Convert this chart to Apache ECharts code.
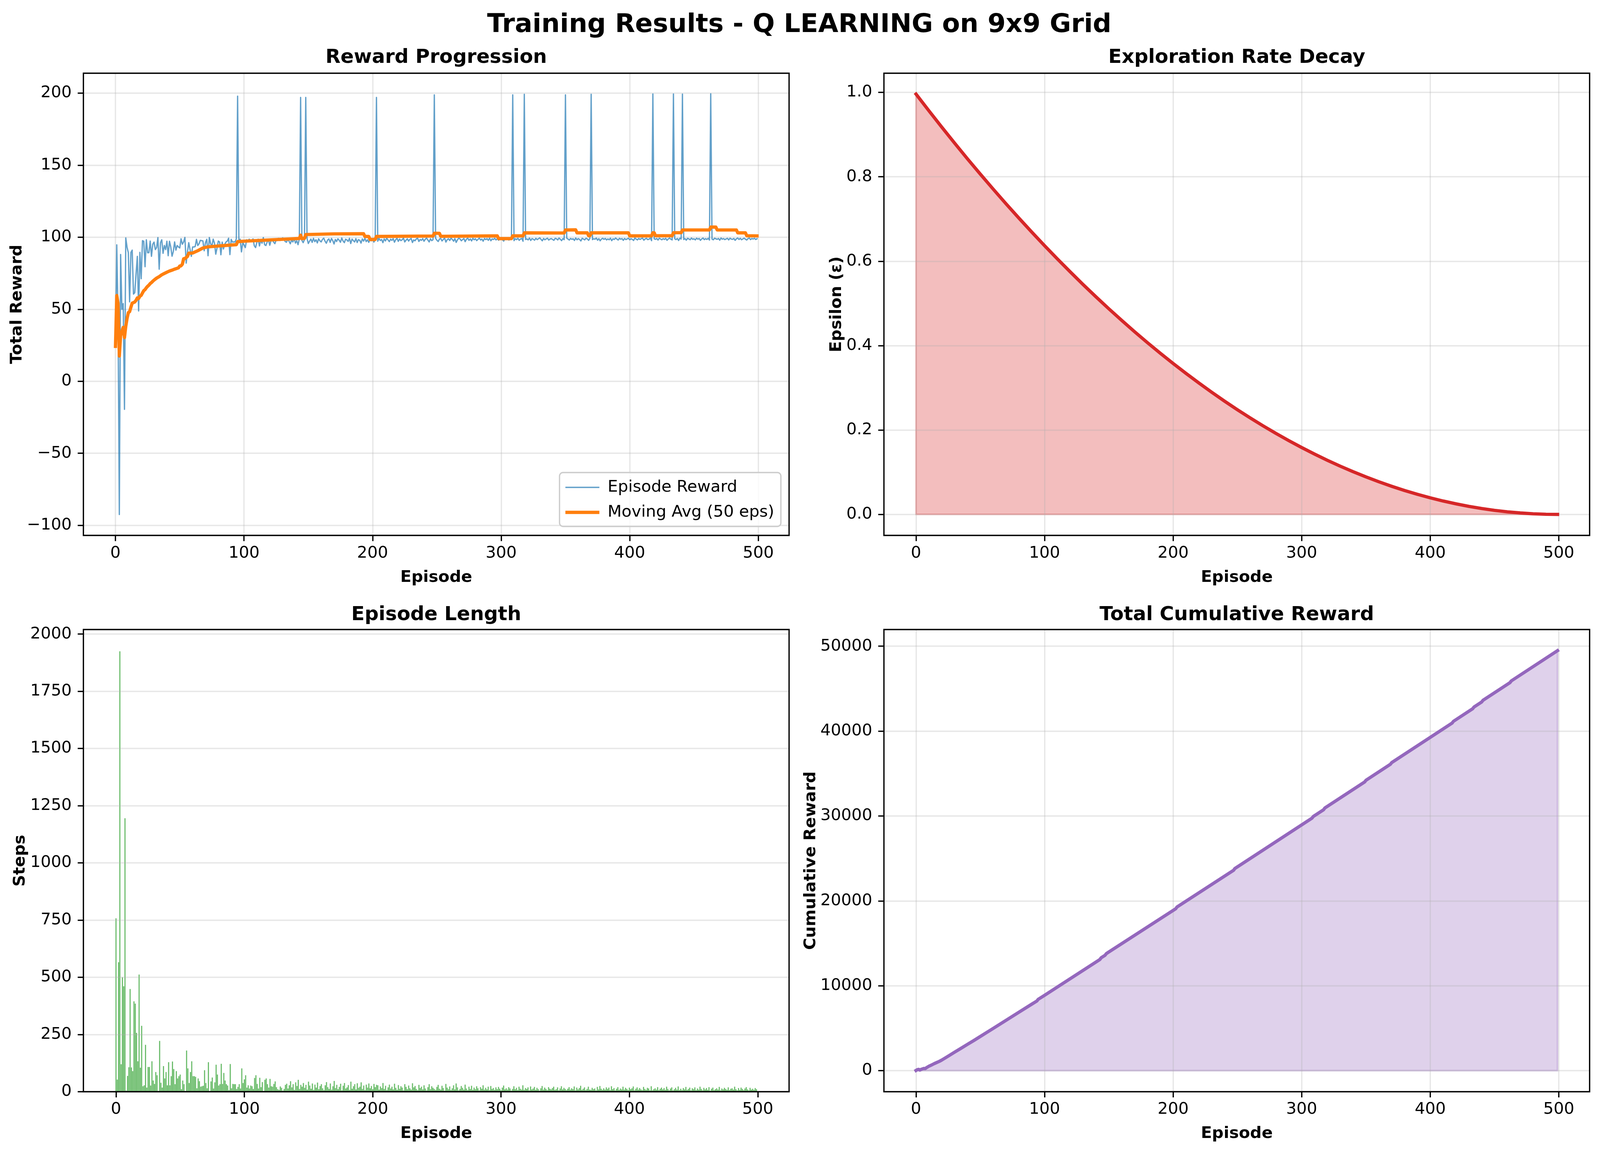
<!DOCTYPE html>
<html><head><meta charset="utf-8">
<style>html,body{margin:0;padding:0;background:#fff;overflow:hidden}#c{width:100vw;height:100vh}</style>
<script src="https://cdn.jsdelivr.net/npm/echarts@6/dist/echarts.min.js"></script>
</head><body><div id="c"></div>
<script>
const rewards = [
24.2,94.7,43.4,-92.5,88,50,53.9,-19.5,99.5,93.1,
89.3,55.1,89.4,91,60.5,61.5,74.3,86.7,48.8,89.5,
71.2,97.6,97.2,79.5,98.2,89.2,89.2,97.3,86.7,95.1,
96.6,91.4,92.8,99.7,77.8,96.1,98.2,88.8,94.2,91.4,
97.2,87.1,97.2,93.2,86.8,90.1,96.7,91,94.2,93.2,
92.5,98.9,95.1,96.7,99.8,82,89.8,96.2,91.4,86.7,
93.2,93.2,93.5,98.5,94.2,95.4,97.8,97.6,97.4,90.6,
96.2,98.5,87.1,99.8,95.5,93.8,98.6,95.9,88.2,92.5,
97.3,96.7,87.8,96.6,91.8,95.1,96.7,97.3,99.3,87.9,
98.5,96.6,96.7,96.7,98.8,197.9,96.7,98.6,89.8,96.2,
94.6,92.8,98.2,97.2,98.6,97.3,97.6,98.8,94,92.8,
96.6,98.6,93.9,98,95.8,99.7,94.8,94.2,96.7,98.2,
94.4,97.6,97.8,96.6,95.5,98,98.9,99.2,97.7,98.3,
99.5,98.8,97,96.5,98.6,97.2,95.4,98.1,96.7,99.2,
95.9,97.5,94.8,98.8,197,97.8,96.2,98.3,197,99.1,
95.6,97.3,98.7,96.4,99.2,96.9,98.2,96,98.9,97.5,
96.7,98.5,99.3,97.2,95.8,98,98.8,96.4,99.1,97.6,
95.3,98.4,97,98.9,97.9,96.5,99.4,97.4,96.2,98.6,
98.1,97.1,99.2,95.6,98.7,97.6,96.7,99,96.3,98.3,
97.8,95.9,98.8,97.3,99.3,96.9,98.2,96.4,98.5,97.5,
98.9,96.6,98,197,97.2,99.1,97.7,98.4,96.2,98.8,
97.4,99.3,98.1,96.9,98.6,97.8,99,96.5,98.3,99.2,
97.1,98.7,97.6,98.2,99.4,96.7,97.9,98.9,97.3,98.5,
99.1,96.3,98.1,97.5,98.8,99.3,97,98.4,97.8,99,
97.2,98.6,99.4,98,96.7,98.9,97.6,98.3,198.8,99.2,
97.9,97,98.7,99.1,97.4,98.4,99.5,96.6,98.2,98.9,
97.7,99.3,98.5,97.2,99,96.4,98.1,99.4,98.8,97.5,
98.3,99.1,96.9,98.6,99.3,97.8,98.8,97.4,99.2,98.2,
98.9,97.6,98.5,99.4,98,98.7,97.2,99.1,98.3,99,
97.8,99.3,97.5,98.8,98.4,99.2,98.1,98.9,97.9,98.7,
99.4,98.2,97.3,99,98.5,99.1,98,98.6,99.5,198.8,
97.6,98.9,98.3,99.3,97.8,98.7,99.1,97.2,199.2,98.4,
98.8,98.1,99.4,97.7,99,98.6,97.9,99.2,98.3,98.9,
99.5,98.5,97.5,99.1,98.2,98.8,99.3,98,98.7,99,
98.4,97.8,99.2,98.9,98.1,99.4,98.6,97.6,99,98.3,
198.8,99.3,98.7,98,99.1,98.5,98.9,97.7,99.4,98.2,
99,98.4,97.4,99.2,98.7,98.1,99.3,98.8,97.8,99.1,
199.2,98.3,98.9,98.6,99.4,97.9,99,97.5,98.7,99.2,
98.5,99.1,98.1,98.8,98.2,99.3,97.6,98.9,98.4,99.4,
98.7,98,99.2,98.6,99,97.8,99.1,98.3,98.8,99.3,
98.2,98.9,98.5,97.7,99.4,98.7,98.1,99.1,98.4,99,
99.3,97.9,98.8,99.2,98.3,98.6,99.4,97.6,199.4,98.9,
98.5,99.1,98,99.3,98.7,98.2,99,98.4,99.2,97.8,
98.8,99.4,98.6,98.1,199.4,98.9,98.3,99.1,97.7,99.3,
98.7,199.3,98.4,99,97.9,99.2,98.8,98.2,99.4,98.5,
98.9,98.1,99.3,98.6,99.1,97.8,98.8,99.4,98.3,99,
98.4,99.2,98,199.5,98.7,98.2,99.3,98.9,98.5,99.1,
97.9,99.4,98.6,99,98.3,98.8,99.2,98.1,99.3,98.7,
98.5,99.1,97.8,98.9,99.4,98.4,99.2,98.2,98.8,99.3,
98.6,98,99,99.4,98.3,99.1,98.7,99.2,98.4,98.9];

const steps = [
758,53,566,1925,120,500,461,1195,5,69,
107,449,106,90,395,385,257,133,512,105,
288,24,28,205,18,108,108,27,133,49,
34,86,72,3,222,39,18,112,58,86,
28,129,28,68,132,99,33,90,58,68,
75,11,49,33,2,180,102,38,86,133,
68,68,65,15,58,46,22,24,26,94,
38,15,129,2,45,62,14,41,118,75,
27,33,122,34,82,49,33,27,7,121,
15,34,33,33,12,21,33,14,102,38,
54,72,18,28,14,27,24,12,60,72,
34,14,61,20,42,3,52,58,33,18,
56,24,22,34,45,20,11,8,23,17,
5,12,30,35,14,28,46,19,33,8,
41,25,52,12,30,22,38,17,30,9,
44,27,13,36,8,31,18,40,11,25,
33,15,7,28,42,20,12,36,9,24,
47,16,30,11,21,35,6,26,38,14,
19,29,8,44,13,24,33,10,37,17,
22,41,12,27,7,31,18,36,15,25,
11,34,20,30,28,9,23,16,38,12,
26,7,19,31,14,22,10,35,17,8,
29,13,24,18,6,33,21,11,27,15,
9,37,19,25,12,7,30,16,22,10,
28,14,6,20,33,11,24,17,12,8,
21,30,13,9,26,16,5,34,18,11,
23,7,15,28,10,36,19,6,12,25,
17,9,31,14,7,22,12,26,8,18,
11,24,15,6,20,13,28,9,17,10,
22,7,25,12,16,8,19,11,21,13,
6,18,27,10,15,9,20,14,5,12,
24,11,17,7,22,13,9,28,8,16,
12,19,6,23,10,14,21,8,17,11,
5,15,25,9,18,12,7,20,13,10,
16,22,8,11,19,6,14,24,10,17,
12,7,13,20,9,15,11,23,6,18,
10,16,26,8,13,19,7,12,22,9,
8,17,11,14,6,21,10,25,13,8,
15,9,19,12,18,7,24,11,16,6,
13,20,8,14,10,22,9,17,12,7,
18,11,15,23,6,13,19,9,16,10,
7,21,12,8,17,14,6,24,6,11,
15,9,20,7,13,18,10,16,8,22,
12,6,14,19,6,11,17,9,23,7,
13,7,16,10,21,8,12,18,6,15,
11,19,7,14,9,22,12,6,17,10,
16,8,20,5,13,18,7,11,15,9,
21,6,14,10,17,12,8,19,7,13,
15,9,22,11,6,16,8,18,12,7,
14,20,10,6,17,9,13,8,16,11];

const avgEpisodes = [0,1,2,3,4,5,6,7,8,9,10,11,12,13,14,15,16,17,18,19,20,21,22,23,24,25,26,27,28,29,30,32,34,36,38,40,42,44,46,49,50,51,52,53,54,55,56,57,60,64,68,72,80,94,95,100,143,144,145,147,148,170,193,194,197,198,202,203,247,248,252,253,297,298,308,309,317,318,349,350,358,359,367,368,369,370,399,400,417,418,419,420,433,434,440,441,462,463,467,468,483,484,490,491,499];
const avgValues = [24.2,59.5,54,17.5,31.6,34.6,37.4,30.3,38,43.5,47.6,48.3,51.4,54.2,54.6,55,56.2,57.9,57.4,59,59.6,61.3,62.9,63.6,64.9,65.9,66.7,67.8,68.5,69.4,70.2,71.6,72.6,73.9,74.8,75.7,76.5,77.1,77.8,78.7,80,80.1,81.2,85,85.2,85.9,86.6,88.9,89,90.6,92.5,93.3,93.9,94.8,96.9,97.2,99.1,101.4,99,99.2,101.8,102.3,102.4,100.5,100.5,98.4,98.4,100.5,100.8,102.7,102.7,100.6,100.9,99,99,100.9,100.9,103,102.9,105,105.1,103,103,101,101,103,103,100.9,100.9,103.1,103.1,101,101,103.1,103.1,105,105,107,107,105,105,103,103,101,100.9];

const epsEpisodes = [0,10,20,30,40,50,60,70,80,90,100,110,120,130,140,150,160,170,180,190,200,210,220,230,240,250,260,270,280,290,300,310,320,330,340,350,360,370,380,390,400,410,420,430,440,450,460,470,480,490,499];
const epsValues = [0.996,0.9565,0.9178,0.8798,0.8427,0.8064,0.7709,0.7362,0.7022,0.6691,0.6368,0.6053,0.5746,0.5446,0.5155,0.4872,0.4597,0.433,0.407,0.3819,0.3576,0.3341,0.3114,0.2894,0.2683,0.248,0.2285,0.2098,0.1918,0.1747,0.1584,0.1429,0.1282,0.1142,0.1011,0.0888,0.0773,0.0666,0.0566,0.0475,0.0392,0.0317,0.025,0.019,0.0139,0.0096,0.0061,0.0034,0.0014,0.0003,0];

const cumEpisodes = [0,1,2,3,4,5,6,7,8,9,10,12,14,16,18,20,25,30,35,40,45,49,55,60,70,80,90,94,95,99,143,144,147,148,149,202,203,247,248,308,309,317,318,349,350,369,370,417,418,433,434,440,441,462,463,499];
const cumValues = [24,119,162,70,158,208,262,242,342,435,524,668,820,955,1091,1251,1712,2178,2636,3105,3559,3934,4503,4975,5933,6885,7833,8206,8403,8784,13100,13297,13589,13786,13885,19080,19280,23610,23815,29745,29945,30740,30940,34010,34210,36095,36295,40945,41150,42640,42835,43430,43630,45710,45910,49475];

const xTicks = [0,100,200,300,400,500];
const rewardTicks = [-100,-50,0,50,100,150,200];
const epsTicks = [0,0.2,0.4,0.6,0.8,1];
const stepTicks = [0,250,500,750,1000,1250,1500,1750,2000];
const cumTicks = [0,10000,20000,30000,40000,50000];

const zip = (xs, ys) => xs.map((x, i) => [x, ys[i]]);
const FONT = 'DejaVu Sans';
const SPINE = 3.33;
// The browser window can be narrower than the 4470 px figure: horizontal layout follows the real width.
const PAGE_W = window.innerWidth || 4470, PAGE_H = window.innerHeight || 2955;
const SX = PAGE_W / 4470;
const LEFT = [233 * SX, 2469.5 * SX], TOP = [187.5, 1612], W = 1971.5 * SX, H = 1183.5;
const CX = [LEFT[0] + W / 2, LEFT[1] + W / 2];

const grids = [[0,0],[1,0],[0,1],[1,1]].map(([c, r]) => ({
  left: LEFT[c], top: TOP[r], width: W, height: H, show: true, z: 3,
  borderColor: '#000', borderWidth: SPINE, backgroundColor: 'transparent', containLabel: false
}));

function xAxis(i, min, max, showGrid) {
  return {
    type: 'value', gridIndex: i, min, max, name: 'Episode', nameLocation: 'middle', nameGap: 87, nameMoveOverlap: false,
    nameTextStyle: {fontFamily: FONT, fontWeight: 'bold', fontSize: 41.67, color: '#000'},
    axisLine: {show: false, onZero: false},
    axisTick: {show: true, length: 14.6, customValues: xTicks, lineStyle: {color: '#000', width: SPINE}},
    axisLabel: {show: true, customValues: xTicks, margin: 25, color: '#000', fontFamily: FONT, fontSize: 41.67, formatter: v => String(v)},
    splitLine: {show: showGrid, lineStyle: {color: '#b0b0b0', opacity: 0.3, width: SPINE}}
  };
}
function yAxis(i, min, max, name, gap, ticks, fmt) {
  return {
    type: 'value', gridIndex: i, min, max, name, nameLocation: 'middle', nameRotate: 90, nameGap: gap, nameMoveOverlap: false,
    nameTextStyle: {fontFamily: FONT, fontWeight: 'bold', fontSize: 41.67, color: '#000'},
    axisLine: {show: false, onZero: false},
    axisTick: {show: true, length: 14.6, customValues: ticks, lineStyle: {color: '#000', width: SPINE}},
    axisLabel: {show: true, customValues: ticks, margin: 30, color: '#000', fontFamily: FONT, fontSize: 41.67, formatter: fmt},
    splitLine: {show: true, lineStyle: {color: '#b0b0b0', opacity: 0.3, width: SPINE}}
  };
}
function ttl(text, cx, top, size) {
  return {text, left: cx, top, padding: 0, textAlign: 'center',
    textStyle: {fontFamily: FONT, fontWeight: 'bold', fontSize: size, color: '#000'}};
}
const plain = v => String(v).replace('-', '\u2212');
const lineBase = {type: 'line', symbol: 'none', showSymbol: false, animation: false};
const stroke = (color, width, opacity) => ({color, width, opacity, join: 'round', cap: 'square'});
const ICON_THIN = 'path://M0,0L87,0L87,0ZM0,30L87,30L87,30ZM0,13.3L87,13.3L87,16.7L0,16.7Z';
const ICON_THICK = 'path://M0,0L87,0L87,0ZM0,30L87,30L87,30ZM0,10.8L87,10.8L87,19.2L0,19.2Z';

const option = {
  animation: false,
  backgroundColor: '#fff',
  textStyle: {fontFamily: FONT},
  title: [
    ttl('Training Results - Q LEARNING on 9x9 Grid', 2233 * SX, 31, 66.67),
    ttl('Reward Progression', CX[0], 123, 50),
    ttl('Exploration Rate Decay', CX[1], 123, 50),
    ttl('Episode Length', CX[0], 1550, 50),
    ttl('Total Cumulative Reward', CX[1], 1550, 50)
  ],
  legend: {
    data: [{name: 'Episode Reward', icon: ICON_THIN}, {name: 'Moving Avg (50 eps)', icon: ICON_THICK}],
    orient: 'vertical', right: PAGE_W - (LEFT[0] + W) + 21, top: 1210, align: 'left',
    padding: [17, 17, 15, 15], itemWidth: 87, itemHeight: 30, itemGap: 22,
    backgroundColor: 'rgba(255,255,255,0.8)', borderColor: '#cccccc', borderWidth: SPINE, borderRadius: 9,
    textStyle: {fontFamily: FONT, fontSize: 41.67, color: '#000', padding: [0,0,0,16]},
    z: 10
  },
  grid: grids,
  xAxis: [xAxis(0, -24.95, 523.95, true), xAxis(1, -24.95, 523.95, true), xAxis(2, -25.4, 524.4, false), xAxis(3, -24.95, 523.95, true)],
  yAxis: [
    yAxis(0, -107, 213.8, 'Total Reward', 148, rewardTicks, plain),
    yAxis(1, -0.0498, 1.0454, 'Epsilon (\u03b5)', 100, epsTicks, v => v.toFixed(1)),
    yAxis(2, 0, 2020, 'Steps', 140, stepTicks, v => String(v)),
    yAxis(3, -2476, 51965, 'Cumulative Reward', 166, cumTicks, v => String(v))
  ],
  series: [
    {...lineBase, name: 'Episode Reward', xAxisIndex: 0, yAxisIndex: 0, data: rewards.map((v, i) => [i, v]),
      lineStyle: stroke('#1f77b4', 3.33, 0.7), itemStyle: {color: '#1f77b4', opacity: 0.7}, z: 4},
    {...lineBase, name: 'Moving Avg (50 eps)', xAxisIndex: 0, yAxisIndex: 0, data: zip(avgEpisodes, avgValues),
      lineStyle: stroke('#ff7f0e', 8.33, 1), itemStyle: {color: '#ff7f0e'}, z: 5},

    {...lineBase, name: 'eps fill', xAxisIndex: 1, yAxisIndex: 1, data: zip(epsEpisodes, epsValues), z: -1,
      lineStyle: {width: 0}, areaStyle: {color: '#d62728', opacity: 0.3}},
    {...lineBase, name: 'eps edge', xAxisIndex: 1, yAxisIndex: 1,
      data: [[epsEpisodes[0], epsValues[0]], [epsEpisodes[0], 0], [epsEpisodes[epsEpisodes.length - 1], 0]], z: -1,
      lineStyle: stroke('#d62728', 4.17, 0.3)},
    {...lineBase, name: 'Epsilon', xAxisIndex: 1, yAxisIndex: 1, data: zip(epsEpisodes, epsValues),
      lineStyle: stroke('#d62728', 8.33, 1), z: 4},

    {type: 'bar', name: 'Steps', xAxisIndex: 2, yAxisIndex: 2, data: steps.map((v, i) => [i, v]),
      barWidth: 2.9, itemStyle: {color: '#2ca02c', opacity: 0.7}, z: -1, animation: false},

    {...lineBase, name: 'cum fill', xAxisIndex: 3, yAxisIndex: 3, data: zip(cumEpisodes, cumValues), z: -1,
      lineStyle: {width: 0}, areaStyle: {color: '#9467bd', opacity: 0.3}},
    {...lineBase, name: 'cum edge', xAxisIndex: 3, yAxisIndex: 3,
      data: [[cumEpisodes[0], 0], [cumEpisodes[cumEpisodes.length - 1], 0], [cumEpisodes[cumEpisodes.length - 1], cumValues[cumValues.length - 1]]], z: -1,
      lineStyle: stroke('#9467bd', 4.17, 0.3)},
    {...lineBase, name: 'Cumulative Reward', xAxisIndex: 3, yAxisIndex: 3, data: zip(cumEpisodes, cumValues),
      lineStyle: stroke('#9467bd', 8.33, 1), z: 4}
  ]
};
const chart = echarts.init(document.getElementById('c'), null, {renderer: 'canvas', width: PAGE_W, height: PAGE_H, devicePixelRatio: 1});
chart.setOption(option);
</script></body></html>
